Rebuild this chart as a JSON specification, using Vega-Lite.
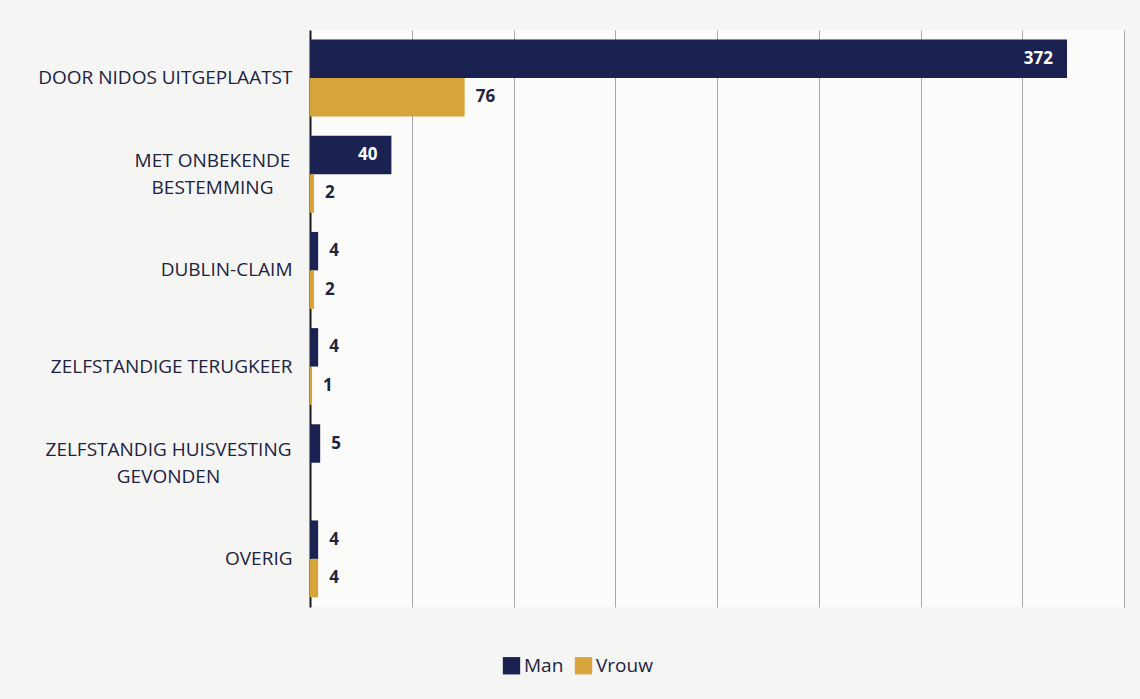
{
  "$schema": "https://vega.github.io/schema/vega-lite/v6.json",
  "width": 814,
  "height": 577,
  "autosize": {"type": "none"},
  "padding": {"left": 310, "top": 30, "right": 16, "bottom": 92},
  "background": "#f5f5f4",
  "config": {
    "view": {"stroke": null, "fill": "#fbfbfa"},
    "font": "Open Sans"
  },
  "data": {
    "values": [
      {"categorie": "DOOR NIDOS UITGEPLAATST", "geslacht": "Man", "aantal": 372},
      {"categorie": "DOOR NIDOS UITGEPLAATST", "geslacht": "Vrouw", "aantal": 76},
      {"categorie": "MET ONBEKENDE BESTEMMING", "geslacht": "Man", "aantal": 40},
      {"categorie": "MET ONBEKENDE BESTEMMING", "geslacht": "Vrouw", "aantal": 2},
      {"categorie": "DUBLIN-CLAIM", "geslacht": "Man", "aantal": 4},
      {"categorie": "DUBLIN-CLAIM", "geslacht": "Vrouw", "aantal": 2},
      {"categorie": "ZELFSTANDIGE TERUGKEER", "geslacht": "Man", "aantal": 4},
      {"categorie": "ZELFSTANDIGE TERUGKEER", "geslacht": "Vrouw", "aantal": 1},
      {"categorie": "ZELFSTANDIG HUISVESTING GEVONDEN", "geslacht": "Man", "aantal": 5},
      {"categorie": "OVERIG", "geslacht": "Man", "aantal": 4},
      {"categorie": "OVERIG", "geslacht": "Vrouw", "aantal": 4}
    ]
  },
  "encoding": {
    "y": {
      "field": "categorie",
      "type": "nominal",
      "sort": ["DOOR NIDOS UITGEPLAATST", "MET ONBEKENDE BESTEMMING", "DUBLIN-CLAIM", "ZELFSTANDIGE TERUGKEER", "ZELFSTANDIG HUISVESTING GEVONDEN", "OVERIG"],
      "scale": {"paddingInner": 0.2, "paddingOuter": 0.1},
      "axis": {
        "title": null,
        "ticks": false,
        "domainColor": "#1a1a1a",
        "domainWidth": 2,
        "labelFont": "Open Sans",
        "labelFontSize": 19,
        "labelColor": "#1d2340",
        "labelLimit": 320,
        "labelLineHeight": 27,
        "labelAlign": {
          "condition": {"test": "datum.value == 'MET ONBEKENDE BESTEMMING' || datum.value == 'ZELFSTANDIG HUISVESTING GEVONDEN'", "value": "center"},
          "value": "right"
        },
        "labelPadding": {
          "condition": [
            {"test": "datum.value == 'MET ONBEKENDE BESTEMMING'", "value": 98},
            {"test": "datum.value == 'ZELFSTANDIG HUISVESTING GEVONDEN'", "value": 142}
          ],
          "value": 18
        },
        "labelOffset": {
          "condition": {"test": "datum.value == 'MET ONBEKENDE BESTEMMING' || datum.value == 'ZELFSTANDIG HUISVESTING GEVONDEN'", "value": -13},
          "value": 0
        },
        "labelExpr": "datum.label == 'MET ONBEKENDE BESTEMMING' ? ['MET ONBEKENDE', 'BESTEMMING'] : datum.label == 'ZELFSTANDIG HUISVESTING GEVONDEN' ? ['ZELFSTANDIG HUISVESTING', 'GEVONDEN'] : datum.label"
      }
    },
    "yOffset": {
      "field": "geslacht",
      "type": "nominal",
      "sort": ["Man", "Vrouw"]
    },
    "x": {
      "field": "aantal",
      "type": "quantitative",
      "scale": {"domain": [0, 400]},
      "axis": {
        "title": null,
        "labels": false,
        "ticks": false,
        "domain": false,
        "grid": true,
        "gridColor": "#a8a8a8",
        "gridWidth": 1,
        "values": [50, 100, 150, 200, 250, 300, 350, 400]
      }
    }
  },
  "layer": [
    {
      "mark": {"type": "bar"},
      "encoding": {
        "color": {
          "field": "geslacht",
          "type": "nominal",
          "scale": {"domain": ["Man", "Vrouw"], "range": ["#1b2150", "#d6a63c"]},
          "legend": {
            "title": null,
            "orient": "none",
            "legendX": 192,
            "legendY": 626,
            "direction": "horizontal",
            "symbolType": "square",
            "symbolSize": 300,
            "symbolStrokeWidth": 0,
            "labelFontSize": 19,
            "labelFont": "Open Sans",
            "labelColor": "#1d2340",
            "columnPadding": 10,
            "labelOffset": 3
          }
        }
      }
    },
    {
      "transform": [{"filter": "datum.aantal >= 20 && datum.geslacht == 'Man'"}],
      "mark": {"type": "text", "align": "right", "dx": -14, "color": "#ffffff", "fontSize": 17, "fontWeight": "bold", "font": "Open Sans"},
      "encoding": {"text": {"field": "aantal", "type": "quantitative"}}
    },
    {
      "transform": [{"filter": "datum.aantal < 20 || datum.geslacht == 'Vrouw'"}],
      "mark": {"type": "text", "align": "left", "dx": 11, "color": "#1d2340", "fontSize": 17, "fontWeight": "bold", "font": "Open Sans"},
      "encoding": {"text": {"field": "aantal", "type": "quantitative"}}
    }
  ]
}
